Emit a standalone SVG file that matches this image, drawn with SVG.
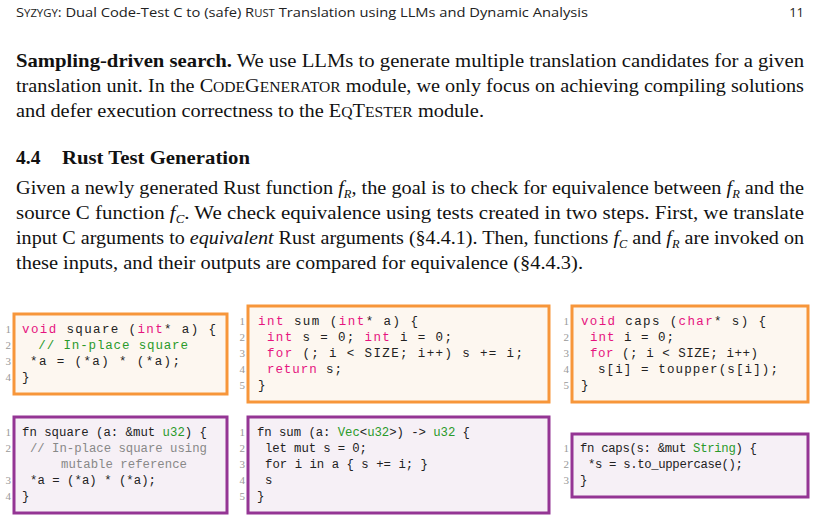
<svg xmlns="http://www.w3.org/2000/svg" width="815" height="520" viewBox="0 0 815 520">
<style>
.hd{font-family:"Open Sans","Liberation Sans",sans-serif;font-size:13px;fill:#222}
.sm{font-size:10px}
.b{font-family:"Liberation Serif",serif;font-size:19.5px;fill:#111}
.bold{font-weight:bold}
.sc{font-size:15px}
.c{font-family:"Liberation Mono",monospace;font-size:12.5px;fill:#222;white-space:pre}
.r{font-family:"Liberation Mono",monospace;font-size:12.3px;fill:#222;white-space:pre}
.k{fill:#e6147f}.g{fill:#2a9a2a}.cm{fill:#888}
.n{font-family:"Liberation Serif",serif;font-size:11px;fill:#999;text-anchor:end}
.ob{fill:#fdf7f0;stroke:#f7963a;stroke-width:3}
.pb{fill:#f6f0f6;stroke:#943594;stroke-width:3}
</style>
<rect width="815" height="520" fill="#fff"/>
<text class="hd" x="16" y="17" textLength="572" lengthAdjust="spacingAndGlyphs">S<tspan class="sm">YZYGY</tspan>: Dual Code-Test C to (safe) R<tspan class="sm">UST</tspan> Translation using LLMs and Dynamic Analysis</text>
<text class="hd" x="804" y="17" text-anchor="end">11</text>
<text class="b" x="16" y="67" textLength="788" lengthAdjust="spacingAndGlyphs"><tspan class="bold">Sampling-driven search.</tspan> We use LLMs to generate multiple translation candidates for a given</text>
<text class="b" x="16" y="92" textLength="788" lengthAdjust="spacingAndGlyphs">translation unit. In the C<tspan class="sc">ODE</tspan>G<tspan class="sc">ENERATOR</tspan> module, we only focus on achieving compiling solutions</text>
<text class="b" x="16" y="117" textLength="468" lengthAdjust="spacingAndGlyphs">and defer execution correctness to the E<tspan class="sc">Q</tspan>T<tspan class="sc">ESTER</tspan> module.</text>
<text class="b bold" x="16" y="164" font-size="20">4.4<tspan x="62" textLength="188" lengthAdjust="spacingAndGlyphs">Rust Test Generation</tspan></text>
<text class="b" x="16" y="194" textLength="788" lengthAdjust="spacingAndGlyphs">Given a newly generated Rust function <tspan font-style="italic">f</tspan><tspan font-style="italic" font-size="12" dy="4">R</tspan><tspan dy="-4">, the goal is to check for equivalence between </tspan><tspan font-style="italic">f</tspan><tspan font-style="italic" font-size="12" dy="4">R</tspan><tspan dy="-4"> and the</tspan></text>
<text class="b" x="16" y="219" textLength="788" lengthAdjust="spacingAndGlyphs">source C function <tspan font-style="italic">f</tspan><tspan font-style="italic" font-size="12" dy="4">C</tspan><tspan dy="-4">. We check equivalence using tests created in two steps. First, we translate</tspan></text>
<text class="b" x="16" y="244" textLength="788" lengthAdjust="spacingAndGlyphs">input C arguments to <tspan font-style="italic">equivalent</tspan> Rust arguments (§4.4.1). Then, functions <tspan font-style="italic">f</tspan><tspan font-style="italic" font-size="12" dy="4">C</tspan><tspan dy="-4"> and </tspan><tspan font-style="italic">f</tspan><tspan font-style="italic" font-size="12" dy="4">R</tspan><tspan dy="-4"> are invoked on</tspan></text>
<text class="b" x="16" y="269" textLength="567" lengthAdjust="spacingAndGlyphs">these inputs, and their outputs are compared for equivalence (§4.4.3).</text>

<g id="c-square">
<rect class="ob" x="14" y="314" width="213" height="80"/>
<text class="n" x="11" y="333">1</text><text class="n" x="11" y="349">2</text><text class="n" x="11" y="365">3</text><text class="n" x="11" y="381">4</text>
<text class="c" x="22" y="333" textLength="194"><tspan class="k">void</tspan> square (<tspan class="k">int</tspan>* a) {</text>
<text class="c g" x="30" y="349" textLength="158"> // In-place square</text>
<text class="c" x="30" y="365" textLength="150">*a = (*a) * (*a);</text>
<text class="c" x="22" y="381">}</text>
</g>
<g id="c-sum">
<rect class="ob" x="248" y="306" width="301" height="96"/>
<text class="n" x="245" y="325">1</text><text class="n" x="245" y="341">2</text><text class="n" x="245" y="357">3</text><text class="n" x="245" y="373">4</text><text class="n" x="245" y="389">5</text>
<text class="c" x="258" y="325" textLength="160"><tspan class="k">int</tspan> sum (<tspan class="k">int</tspan>* a) {</text>
<text class="c" x="267" y="341" textLength="185"><tspan class="k">int</tspan> s = 0; <tspan class="k">int</tspan> i = 0;</text>
<text class="c" x="267" y="357" textLength="256"><tspan class="k">for</tspan> (; i &lt; SIZE; i++) s += i;</text>
<text class="c" x="267" y="373" textLength="75"><tspan class="k">return</tspan> s;</text>
<text class="c" x="258" y="389">}</text>
</g>
<g id="c-caps">
<rect class="ob" x="572" y="306" width="236" height="96"/>
<text class="n" x="569" y="325">1</text><text class="n" x="569" y="341">2</text><text class="n" x="569" y="357">3</text><text class="n" x="569" y="373">4</text><text class="n" x="569" y="389">5</text>
<text class="c" x="581" y="325" textLength="185"><tspan class="k">void</tspan> caps (<tspan class="k">char</tspan>* s) {</text>
<text class="c" x="590" y="341" textLength="84"><tspan class="k">int</tspan> i = 0;</text>
<text class="c" x="590" y="357" textLength="168"><tspan class="k">for</tspan> (; i &lt; SIZE; i++)</text>
<text class="c" x="598" y="373" textLength="180">s[i] = toupper(s[i]);</text>
<text class="c" x="581" y="389">}</text>
</g>
<g id="r-square">
<rect class="pb" x="14" y="417" width="213" height="96"/>
<text class="n" x="11" y="436">1</text><text class="n" x="11" y="452">2</text><text class="n" x="11" y="484">3</text><text class="n" x="11" y="500">4</text>
<text class="r" x="22" y="436" textLength="185">fn square (a: &amp;mut <tspan class="g">u32</tspan>) {</text>
<text class="r cm" x="30" y="452" textLength="177">// In-place square using</text>
<text class="r cm" x="61" y="468" textLength="126">mutable reference</text>
<text class="r" x="30" y="484" textLength="126">*a = (*a) * (*a);</text>
<text class="r" x="22" y="500">}</text>
</g>
<g id="r-sum">
<rect class="pb" x="248" y="417" width="301" height="96"/>
<text class="n" x="245" y="436">1</text><text class="n" x="245" y="452">2</text><text class="n" x="245" y="468">3</text><text class="n" x="245" y="484">4</text><text class="n" x="245" y="500">5</text>
<text class="r" x="257" y="436" textLength="213">fn sum (a: <tspan class="g">Vec</tspan>&lt;<tspan class="g">u32</tspan>&gt;) -&gt; <tspan class="g">u32</tspan> {</text>
<text class="r" x="265" y="452" textLength="102">let mut s = 0;</text>
<text class="r" x="265" y="468" textLength="163">for i in a { s += i; }</text>
<text class="r" x="265" y="484">s</text>
<text class="r" x="257" y="500">}</text>
</g>
<g id="r-caps">
<rect class="pb" x="572" y="434" width="236" height="63"/>
<text class="n" x="569" y="452">1</text><text class="n" x="569" y="468">2</text><text class="n" x="569" y="484">3</text>
<text class="r" x="580" y="452" textLength="177">fn caps(s: &amp;mut <tspan class="g">String</tspan>) {</text>
<text class="r" x="588" y="468" textLength="155">*s = s.to_uppercase();</text>
<text class="r" x="580" y="484">}</text>
</g>
</svg>
